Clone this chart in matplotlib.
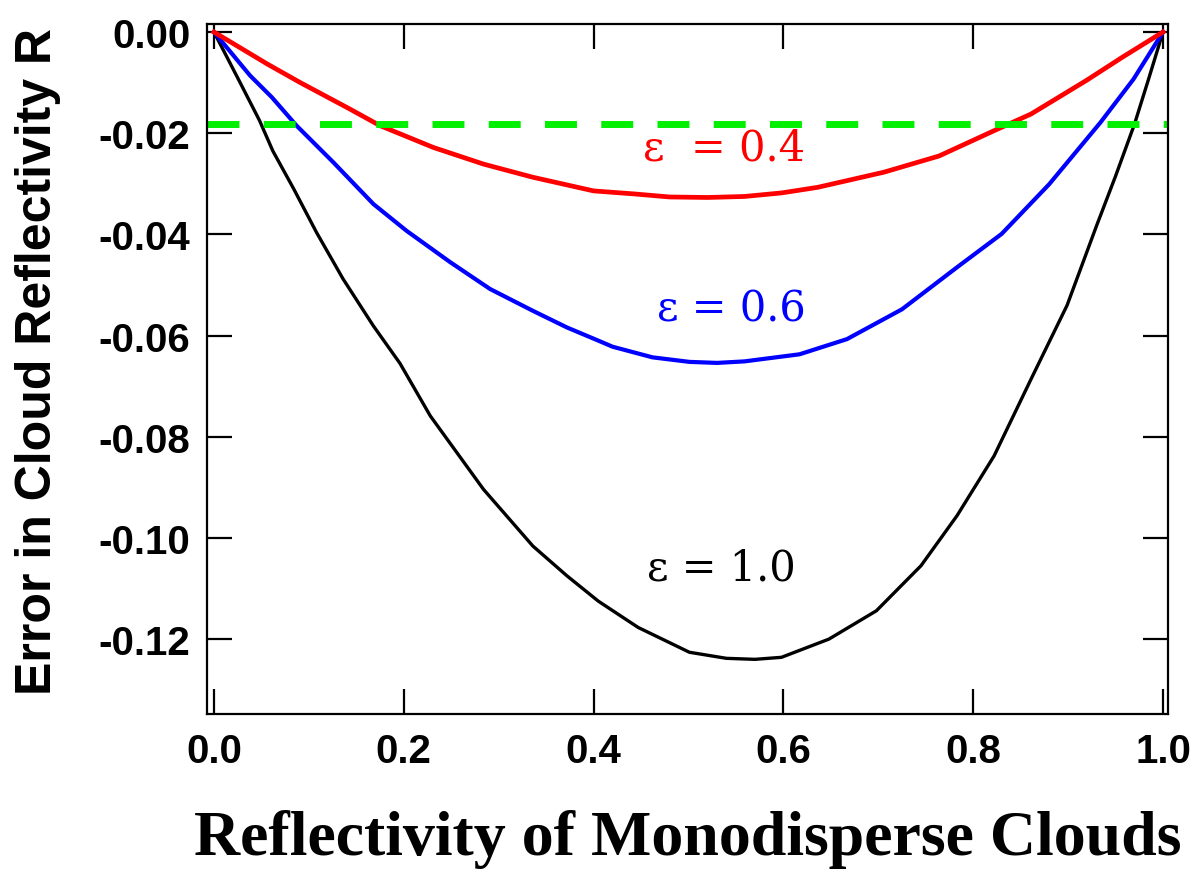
import matplotlib
matplotlib.use('Agg')
import matplotlib.pyplot as plt

plt.rcParams['axes.unicode_minus'] = False

# Curves
x_04 = [0.0, 0.056, 0.091, 0.143, 0.175, 0.231, 0.284, 0.336, 0.400, 0.443, 0.480,
        0.520, 0.559, 0.598, 0.636, 0.706, 0.764, 0.822, 0.861, 0.919, 0.957, 1.0]
y_04 = [0.0, -0.0063, -0.0100, -0.0152, -0.0185, -0.0228, -0.0261, -0.0287, -0.0314,
        -0.0320, -0.0326, -0.0327, -0.0325, -0.0318, -0.0307, -0.0277, -0.0245,
        -0.0195, -0.0162, -0.0096, -0.0050, 0.0]

x_06 = [0.0, 0.038, 0.061, 0.087, 0.126, 0.168, 0.203, 0.249, 0.291, 0.336, 0.372,
        0.405, 0.420, 0.462, 0.501, 0.530, 0.559, 0.617, 0.667, 0.725, 0.783, 0.830,
        0.880, 0.934, 0.969, 1.0]
y_06 = [0.0, -0.0086, -0.0129, -0.0185, -0.0258, -0.0340, -0.0393, -0.0455, -0.0508,
        -0.0551, -0.0584, -0.0610, -0.0622, -0.0643, -0.0652, -0.0654, -0.0651,
        -0.0637, -0.0607, -0.0548, -0.0465, -0.0399, -0.0301, -0.0179, -0.0093, 0.0]

x_10 = [0.0, 0.027, 0.048, 0.062, 0.084, 0.108, 0.136, 0.168, 0.196, 0.228, 0.284,
        0.336, 0.372, 0.405, 0.447, 0.501, 0.540, 0.570, 0.598, 0.648, 0.698, 0.745,
        0.783, 0.822, 0.861, 0.899, 0.930, 0.950, 0.970, 0.985, 1.0]
y_10 = [0.0, -0.0098, -0.0175, -0.0235, -0.0310, -0.0396, -0.0488, -0.0581, -0.0655,
        -0.0759, -0.0904, -0.1016, -0.1075, -0.1125, -0.1177, -0.1226, -0.1238,
        -0.1240, -0.1236, -0.1200, -0.1144, -0.1055, -0.0956, -0.0838, -0.0686,
        -0.0540, -0.0383, -0.0285, -0.0182, -0.0092, 0.0]

threshold = -0.0182

xticks = [0.0, 0.2, 0.4, 0.6, 0.8, 1.0]
xtick_labels = ['0.0', '0.2', '0.4', '0.6', '0.8', '1.0']
yticks = [0.0, -0.02, -0.04, -0.06, -0.08, -0.10, -0.12]
ytick_labels = ['0.00', '-0.02', '-0.04', '-0.06', '-0.08', '-0.10', '-0.12']

fig = plt.figure(figsize=(11.95, 8.79), dpi=100)
ax = fig.add_axes([0.1732, 0.1866, 0.8042, 0.785])

ax.plot(x_10, y_10, color='black', lw=2.4)
ax.plot(x_06, y_06, color='#0000ff', lw=3.0)
ax.plot(x_04, y_04, color='#ff0000', lw=3.4)
ax.axhline(threshold, color='#00f000', lw=5, dashes=(4.6, 3.5))

serif = ['DejaVu Serif']
ax.text(0.537, -0.0229, 'ε  = 0.4', color='#ff0000', fontsize=30, family=serif,
        ha='center', va='center')
ax.text(0.545, -0.0546, 'ε = 0.6', color='#0000ff', fontsize=30, family=serif,
        ha='center', va='center')
ax.text(0.535, -0.1058, 'ε = 1.0', color='black', fontsize=30, family=serif,
        ha='center', va='center')

ax.set_xlim(-0.0074, 1.0053)
ax.set_ylim(-0.1348, 0.0016)
ax.set_xticks(xticks)
ax.set_xticklabels(xtick_labels)
ax.set_yticks(yticks)
ax.set_yticklabels(ytick_labels)

narrow = ['Liberation Sans Narrow', 'Liberation Sans']
for lab in ax.get_xticklabels() + ax.get_yticklabels():
    lab.set_family(narrow)
    lab.set_fontweight('bold')
    lab.set_fontsize(29)

ax.tick_params(direction='in', length=18, width=1.6, top=True, right=True, pad=13)
ax.tick_params(axis='y', pad=12)
for sp in ax.spines.values():
    sp.set_linewidth(1.6)

ax.set_ylabel('Error in Cloud Reflectivity R', fontsize=36, fontweight='bold',
              family=['Liberation Sans', 'DejaVu Sans'])
ax.yaxis.set_label_coords(-0.152, 0.513)
ax.set_xlabel('Reflectivity of Monodisperse Clouds', fontsize=46, fontweight='bold',
              family=['Liberation Serif', 'DejaVu Serif'], labelpad=28, x=0.5)

fig.savefig('out.png', dpi=100)
